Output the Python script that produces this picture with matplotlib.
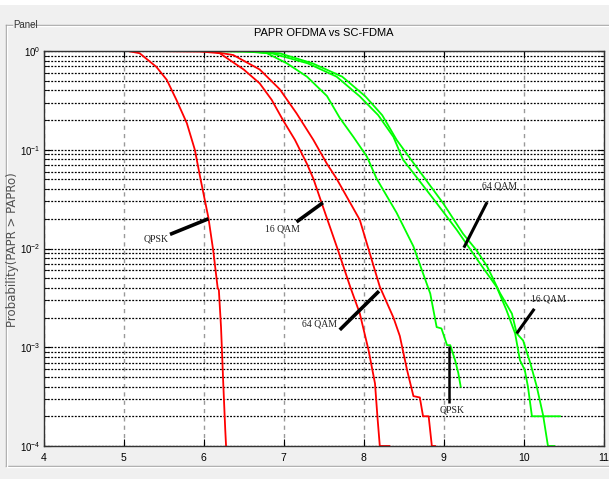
import numpy as np
import matplotlib
matplotlib.use('Agg')
import matplotlib.pyplot as plt
from matplotlib.lines import Line2D
from matplotlib.patches import Rectangle
from matplotlib.ticker import LogLocator, FixedLocator


# PAPRo (dB) against Pr(PAPR > PAPRo)
# SC-FDMA (red)
red_qpsk_x = [4.72, 5.05, 5.20, 5.41, 5.54, 5.66, 5.79, 5.89, 5.96, 6.06, 6.12,
              6.175, 6.19, 6.217, 6.245, 6.27, 6.28]
red_qpsk_y = [1, 1, 0.95, 0.69, 0.51, 0.32, 0.186, 0.1, 0.051, 0.0204, 0.0095,
              0.004, 0.0038, 0.0016, 4.3e-4, 1.45e-4, 1e-4]

red_16qam_x = [5.28, 5.95, 6.20, 6.50, 6.70, 6.85, 6.99, 7.14, 7.29, 7.37, 7.47,
               7.68, 7.83, 7.95, 8.06, 8.14, 8.17, 8.20, 8.32]
red_16qam_y = [1, 0.99, 0.95, 0.65, 0.47, 0.32, 0.20, 0.126, 0.072, 0.051, 0.0295,
               0.0095, 0.0041, 0.0022, 9.3e-4, 4.3e-4, 2e-4, 1e-4, 1e-4]

red_64qam_x = [5.28, 6.10, 6.37, 6.70, 6.95, 7.16, 7.37, 7.54, 7.66, 7.95, 8.20,
               8.37, 8.45, 8.54, 8.62, 8.70, 8.74, 8.81, 8.85, 8.89]
red_64qam_y = [1, 0.99, 0.91, 0.65, 0.41, 0.234, 0.126, 0.072, 0.051, 0.0195, 0.0041,
               0.002, 0.0013, 5.9e-4, 3.2e-4, 3.1e-4, 2e-4, 2e-4, 1e-4, 1e-4]

# OFDMA (green)
green_qpsk_x = [6.08, 6.60, 6.79, 7.04, 7.29, 7.54, 7.70, 7.87, 8.04, 8.16, 8.41,
                8.62, 8.74, 8.83, 8.91, 8.97, 9.04, 9.08, 9.14, 9.18, 9.21]
green_qpsk_y = [1, 0.99, 0.95, 0.75, 0.55, 0.35, 0.21, 0.135, 0.085, 0.051, 0.023,
                0.0105, 0.0056, 0.0035, 0.0016, 0.00155, 0.00105, 0.00105, 7.4e-4,
                5.5e-4, 4e-4]

green_64qam_x = [6.08, 6.50, 6.85, 7.30, 7.66, 7.95, 8.18, 8.37, 8.49, 8.91, 9.16,
                 9.45, 9.66, 9.78, 9.89, 9.95, 10.01, 10.05, 10.10, 10.45]
green_64qam_y = [1, 0.989, 0.948, 0.75, 0.55, 0.347, 0.224, 0.135, 0.0794, 0.0288,
                 0.0155, 0.00708, 0.00407, 0.0024, 0.00138, 7.4e-4, 5.9e-4, 4e-4,
                 2e-4, 2e-4]

green_16qam_x = [6.08, 6.55, 6.95, 7.36, 7.73, 8.02, 8.23, 8.41, 8.59, 8.99, 9.24,
                 9.41, 9.54, 9.70, 9.85, 9.91, 9.99, 10.08, 10.16, 10.24, 10.30, 10.38]
green_16qam_y = [1, 0.989, 0.948, 0.75, 0.55, 0.347, 0.224, 0.126, 0.0794, 0.0288,
                 0.0141, 0.00955, 0.0066, 0.00355, 0.00219, 0.00138, 0.00117,
                 6.9e-4, 4e-4, 2.04e-4, 1e-4, 1e-4]

# labels: text, text position, pointer start, pointer end (on the curve)
labels = ['QPSK', '16 QAM', '64 QAM', 'QPSK', '16 QAM', '64 QAM']
label_x = [5.41, 6.99, 7.45, 9.10, 10.30, 9.70]
label_y = [0.0126, 0.0158, 0.0017, 2.3e-4, 0.0031, 0.0427]
ptr_x0 = [5.58, 7.16, 7.70, 9.06, 9.91, 9.25]
ptr_y0 = [0.0139, 0.0186, 0.0015, 2.7e-4, 0.00138, 0.0102]
ptr_x1 = [6.06, 7.49, 8.19, 9.06, 10.13, 9.54]
ptr_y1 = [0.020, 0.0291, 0.0037, 0.00102, 0.00245, 0.0295]
ptr_lw = [2.6, 2.6, 2.6, 1.8, 2.2, 2.2]

x_ticks = [4, 5, 6, 7, 8, 9, 10, 11]

narrow = ['Liberation Sans Narrow', 'Liberation Sans', 'DejaVu Sans']
plt.rcParams['font.family'] = narrow
plt.rcParams['mathtext.fontset'] = 'custom'
plt.rcParams['mathtext.rm'] = 'Liberation Sans'

fig = plt.figure(figsize=(6.09, 4.79), dpi=100, facecolor='#f0f0f0')
W, H = 609.0, 479.0

# panel frame
fig.add_artist(Rectangle((0, 1 - 5 / H), 1, 5 / H, transform=fig.transFigure,
                         facecolor='white', edgecolor='none'))
for (xa, xb, ya, yb, c) in [(6, 12, 25, 25, '#a0a0a0'), (30, 609, 25, 25, '#a0a0a0'),
                            (6, 12, 26, 26, 'white'), (30, 609, 26, 26, 'white'),
                            (6, 609, 466, 466, '#a0a0a0'), (6, 609, 467, 467, 'white'),
                            (6, 6, 25, 466, '#a0a0a0'), (7, 7, 26, 466, 'white')]:
    fig.add_artist(Line2D([xa / W, xb / W], [1 - ya / H, 1 - yb / H],
                          transform=fig.transFigure, color=c, lw=1))
fig.text(13 / W, 1 - 25 / H, 'Panel', fontsize=7, va='center', ha='left',
         color='#333333')

ax = fig.add_axes([43.5 / W, 1 - 446 / H, (604 - 43.5) / W, (446 - 51) / H])
ax.set_facecolor('white')
ax.set_yscale('log')
ax.set_xlim(4, 11)
ax.set_ylim(1e-4, 1)

ax.plot(red_qpsk_x, red_qpsk_y, color='#ff0000', lw=1.3)
ax.plot(red_16qam_x, red_16qam_y, color='#ff0000', lw=1.3)
ax.plot(red_64qam_x, red_64qam_y, color='#ff0000', lw=1.3)
ax.plot(green_qpsk_x, green_qpsk_y, color='#00ff00', lw=1.3)
ax.plot(green_16qam_x, green_16qam_y, color='#00ff00', lw=1.3)
ax.plot(green_64qam_x, green_64qam_y, color='#00ff00', lw=1.3)

for i, t in enumerate(labels):
    ax.plot([ptr_x0[i], ptr_x1[i]], [ptr_y0[i], ptr_y1[i]], color='black',
            lw=ptr_lw[i], solid_capstyle='butt')
    ax.text(label_x[i], label_y[i], t, fontsize=7, ha='center', va='center',
            family=['Liberation Serif', 'DejaVu Serif'], color='#222222')

ax.xaxis.set_major_locator(FixedLocator(x_ticks))
ax.yaxis.set_major_locator(LogLocator(base=10, numticks=10))
ax.yaxis.set_minor_locator(LogLocator(base=10, subs=np.arange(2, 10), numticks=20))
ax.yaxis.set_minor_formatter(plt.NullFormatter())
ax.grid(True, axis='y', which='both', color='black', linestyle=(0, (1.5, 1.2)), lw=0.9)
ax.grid(True, axis='x', which='major', color='#999999', linestyle=(0, (3, 3)), lw=1)
ax.tick_params(which='both', direction='in', top=True, right=True, labelsize=7.5,
               colors='black')
ax.tick_params(axis='y', labelsize=7, pad=2)
ax.tick_params(which='major', length=5)
ax.tick_params(which='minor', length=3)
ax.tick_params(axis='x', pad=5)
for s in ax.spines.values():
    s.set_linewidth(1)
    s.set_color('#333333')

fig.text(323.8 / W, 1 - 33 / H, 'PAPR OFDMA vs SC-FDMA', fontsize=8,
         ha='center', va='center')
fig.text(13 / W, 1 - 250 / H, 'Probability(PAPR > PAPRo)', rotation=90, fontsize=8.5,
         ha='center', va='center', color='#505050', family='DejaVu Sans')

fig.savefig('out.png', dpi=100, facecolor=fig.get_facecolor())
